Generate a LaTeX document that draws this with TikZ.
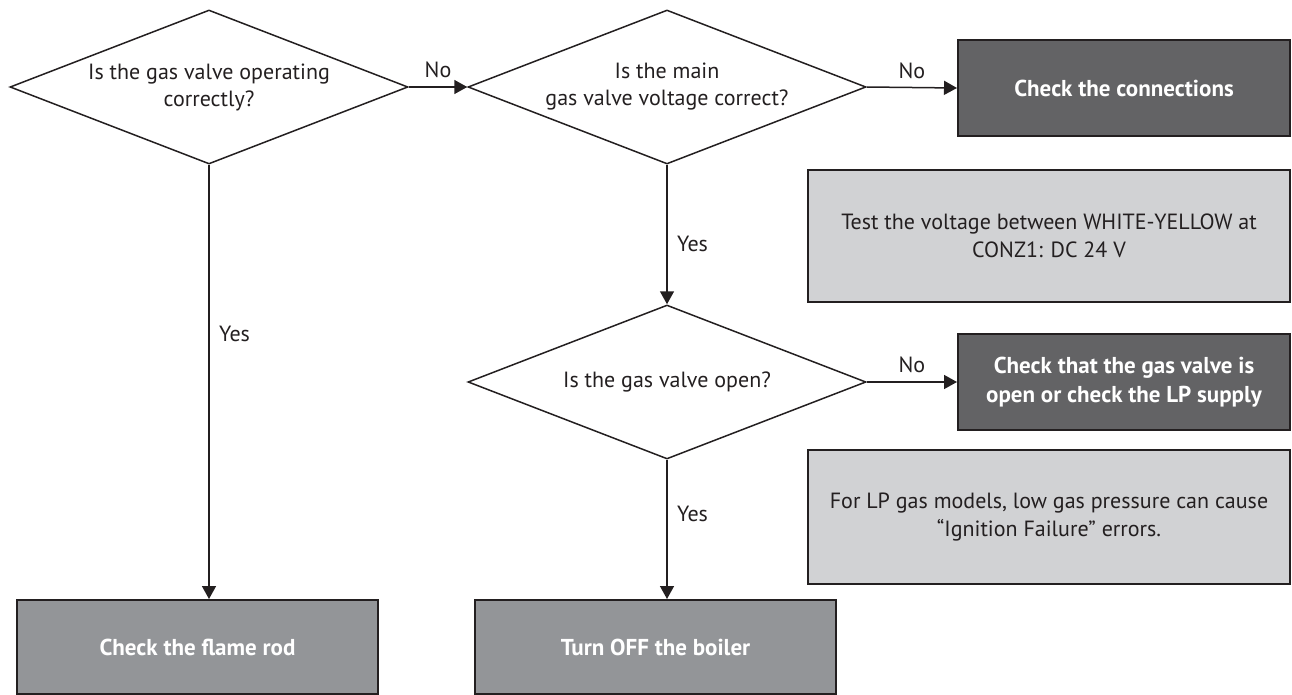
\documentclass[tikz,border=0pt]{standalone}
\usepackage{fontspec}
\setmainfont{PT Sans}
\usetikzlibrary{shapes.geometric,arrows.meta,positioning}
\definecolor{ink}{HTML}{231F20}
\definecolor{darkbox}{HTML}{636365}
\definecolor{midbox}{HTML}{939598}
\definecolor{notebox}{HTML}{D1D2D4}

\begin{document}
\begin{tikzpicture}[x=1pt, y=-1pt,
        decision/.style={diamond, draw=ink, line width=1.5pt, aspect=2.6, inner sep=-10pt,
            minimum width=398pt, minimum height=154pt, align=center, text=ink,
            font=\fontsize{22}{27}\selectfont},
        result/.style={draw=ink, line width=2pt, text=white, align=center,
            font=\fontsize{23}{29}\selectfont\bfseries},
        note/.style={draw=ink, line width=2pt, fill=notebox, text=ink, align=center,
            font=\fontsize{22}{28}\selectfont},
        flow/.style={-{Triangle[length=13pt,width=14pt]}, draw=ink, line width=1.5pt},
        answer/.style={text=ink, font=\fontsize{22}{26}\selectfont},
    ]
    \useasboundingbox (0,0) rectangle (1292,695);

    % questions
    \node[decision] (operating) at (209,87) {Is the gas valve operating\\correctly?};
    \node[decision] (voltage) at (667,87) {Is the main\\gas valve voltage correct?};
    \node[decision] (open) at (667,382) {Is the gas valve open?};

    % outcomes
    \node[result, fill=darkbox, minimum width=332pt, minimum height=96pt] (connections) at (1124,88) {Check the connections};
    \node[note, minimum width=482pt, minimum height=132pt] (testnote) at (1049,236) {Test the voltage between WHITE-YELLOW at\\CONZ1: DC 24 V};
    \node[result, fill=darkbox, minimum width=332pt, minimum height=96pt] (supply) at (1124,382) {Check that the gas valve is\\open or check the LP supply};
    \node[note, minimum width=482pt, minimum height=134pt] (lpnote) at (1049,517) {For LP gas models, low gas pressure can cause\\“Ignition Failure” errors.};
    \node[result, fill=midbox, minimum width=361pt, minimum height=94pt] (flamerod) at (197.5,647) {Check the flame rod};
    \node[result, fill=midbox, minimum width=361pt, minimum height=94pt] (boiler) at (655.5,647) {Turn OFF the boiler};

    % connectors
    \draw[flow] (operating.east) -- (voltage.west) node[midway, above=5pt, answer] {No};
    \draw[flow] (voltage.east) -- (connections.west) node[midway, above=5pt, answer] {No};
    \draw[flow] (open.east) -- (supply.west) node[midway, above=5pt, answer] {No};
    \draw[flow] (operating.south) -- (operating.south |- flamerod.north) node[pos=0.39, right=6pt, answer] {Yes};
    \draw[flow] (voltage.south) -- (open.north) node[pos=0.57, right=6pt, answer] {Yes};
    \draw[flow] (open.south) -- (open.south |- boiler.north) node[pos=0.39, right=6pt, answer] {Yes};
\end{tikzpicture}
\end{document}
